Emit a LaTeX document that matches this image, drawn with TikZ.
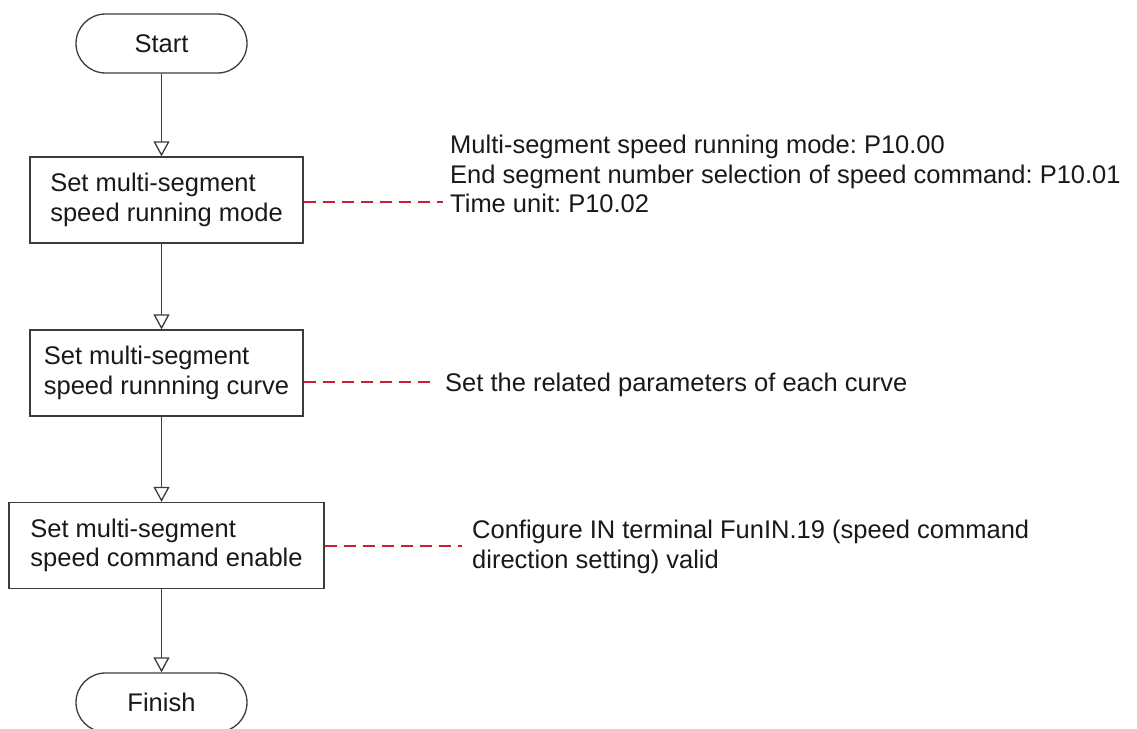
\documentclass[tikz,border=0pt]{standalone}
\usepackage{fontspec}
\setmainfont{Liberation Sans}
\usetikzlibrary{arrows.meta,calc}
\definecolor{ln}{RGB}{60,60,60}
\definecolor{rd}{RGB}{205,30,55}
\definecolor{tx}{RGB}{25,25,25}
\frenchspacing
\begin{document}
\begin{tikzpicture}[x=1pt,y=-1pt,
  every node/.style={font=\fontsize{25.5}{29.5}\selectfont, text=tx},
  term/.style={draw=ln, line width=1.3pt, rounded corners=29.5pt, minimum width=171pt, minimum height=59pt, inner sep=0pt},
  proc/.style={draw=ln, line width=1.3pt, minimum height=86pt, align=left, inner sep=0pt},
  note/.style={align=left, inner sep=0pt, anchor=north west},
  flow/.style={draw=ln, line width=1.3pt, -{Triangle[open, length=15pt, width=16pt, fill=white]}},
  link/.style={draw=rd, line width=1.5pt, dash pattern=on 12pt off 7pt}]
\useasboundingbox (0,0) rectangle (1137,728);
\fill[white] (0,0) rectangle (1137,728);

\node[term] (st) at (161.5,43.5) {Start};
\node[proc, minimum width=273pt] (b1) at (166.5,200) {Set multi-segment\\speed running mode};
\node[proc, minimum width=273pt] (b2) at (166.5,373) {Set multi-segment\\speed runnning curve};
\node[proc, minimum width=315pt] (b3) at (166.5,545.5) {Set multi-segment\\speed command enable};
\node[term] (fi) at (161.5,702.5) {Finish};

\draw[flow] (st.south) -- (st.south |- b1.north);
\draw[flow] (st.south |- b1.south) -- (st.south |- b2.north);
\draw[flow] (st.south |- b2.south) -- (st.south |- b3.north);
\draw[flow] (st.south |- b3.south) -- (fi.north);

\node[note] (n1) at (450,135) {Multi-segment speed running mode: P10.00\\End segment number selection of speed command: P10.01\\Time unit: P10.02};
\coordinate (d1) at (443,202);
\draw[link] (b1.east |- d1) -- (d1);

\node[note, anchor=base west] (n2) at (445,391) {Set the related parameters of each curve};
\coordinate (d2) at (435,382);
\draw[link] (b2.east |- d2) -- (d2);

\node[note] (n3) at (472,520) {Configure IN terminal FunIN.19 (speed command\\direction setting) valid};
\coordinate (d3) at (462,546);
\draw[link] (b3.east |- d3) -- (d3);
\end{tikzpicture}
\end{document}
